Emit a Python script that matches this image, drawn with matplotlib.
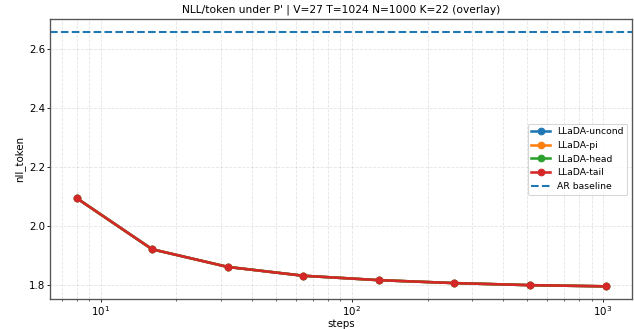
import matplotlib
matplotlib.use("Agg")
import matplotlib.pyplot as plt

steps = [8, 16, 32, 64, 128, 256, 512, 1024]
series_names = ["LLaDA-uncond", "LLaDA-pi", "LLaDA-head", "LLaDA-tail"]
series_values = {
    "LLaDA-uncond": [2.095, 1.921, 1.861, 1.831, 1.816, 1.806, 1.799, 1.795],
    "LLaDA-pi":     [2.095, 1.921, 1.861, 1.831, 1.816, 1.806, 1.799, 1.795],
    "LLaDA-head":   [2.095, 1.921, 1.861, 1.831, 1.816, 1.806, 1.799, 1.795],
    "LLaDA-tail":   [2.095, 1.921, 1.861, 1.831, 1.816, 1.806, 1.799, 1.795],
}
ar_baseline = 2.66

DPI = 74
fig, ax = plt.subplots(figsize=(634 / DPI, 329 / DPI), dpi=DPI)
colors = ["#1f77b4", "#ff7f0e", "#2ca02c", "#d62728"]
for name, c in zip(series_names, colors):
    ax.plot(steps, series_values[name], marker="o", color=c, lw=2.5, ms=6.5, label=name)
ax.axhline(ar_baseline, ls="--", color="#1f77b4", lw=2, label="AR baseline")
ax.set_xscale("log")
ax.set_xlabel("steps", labelpad=1)
ax.set_ylabel("nll_token", labelpad=3)
ax.set_title("NLL/token under P' | V=27 T=1024 N=1000 K=22 (overlay)", fontsize=10.4)
ax.tick_params(which="major", length=3, pad=2)
ax.tick_params(which="minor", length=1.8)
ax.grid(True, which="both", ls="--", alpha=0.35)
for s in ax.spines.values():
    s.set_color("#555555")
    s.set_linewidth(1.3)
ax.legend(loc="center right", fontsize=9)
fig.subplots_adjust(left=0.079, right=0.997, top=0.942, bottom=0.091)
fig.savefig("out.png", dpi=DPI)
